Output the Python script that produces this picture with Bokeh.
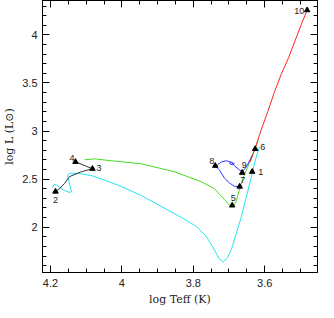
from bokeh.plotting import figure
from bokeh.models import (Range1d, SingleIntervalTicker, LinearAxis,
                          CustomJSTickFormatter, ColumnDataSource)
from bokeh.embed import file_html
from bokeh.resources import INLINE
from bokeh.core.properties import value

# ---------------- data (log Teff, log L) ----------------
red_T = [3.641, 3.627, 3.610, 3.590, 3.573, 3.554, 3.533, 3.515, 3.498, 3.481]
red_L = [2.680, 2.814, 3.010, 3.216, 3.402, 3.588, 3.763, 3.938, 4.103, 4.258]

cyan_T = [4.194, 4.190, 4.183, 4.174, 4.160, 4.146, 4.141, 4.146, 4.150, 4.152,
          4.146, 4.122, 4.085, 4.057, 4.001, 3.946, 3.890, 3.834, 3.792, 3.764,
          3.744, 3.727, 3.716, 3.704, 3.693, 3.679, 3.665, 3.651, 3.637, 3.626,
          3.615]
cyan_L = [2.412, 2.446, 2.440, 2.412, 2.381, 2.361, 2.371, 2.440, 2.508, 2.543,
          2.560, 2.560, 2.536, 2.502, 2.423, 2.330, 2.217, 2.103, 2.010, 1.907,
          1.784, 1.670, 1.639, 1.684, 1.770, 1.941, 2.113, 2.320, 2.526, 2.698,
          2.835]

green_T = [4.105, 4.077, 4.029, 3.946, 3.853, 3.778, 3.741, 3.713, 3.696, 3.690,
           3.680, 3.672, 3.661, 3.647, 3.633, 3.618]
green_L = [2.701, 2.711, 2.691, 2.660, 2.577, 2.474, 2.402, 2.289, 2.222, 2.212,
           2.268, 2.371, 2.508, 2.629, 2.766, 2.907]

blue_T = [3.670, 3.685, 3.699, 3.713, 3.727, 3.7365, 3.732, 3.7225, 3.7085, 3.699,
          3.691, 3.685, 3.691, 3.699, 3.693, 3.6825, 3.671, 3.665, 3.657, 3.648,
          3.634]
blue_L = [2.423, 2.426, 2.461, 2.512, 2.598, 2.632, 2.649, 2.677, 2.691, 2.683,
          2.675, 2.660, 2.649, 2.665, 2.672, 2.632, 2.598, 2.580, 2.598, 2.649,
          2.753]

black_T = [4.130, 4.0825, 4.1133, 4.1469, 4.1608, 4.1748, 4.186]
black_L = [2.680, 2.608, 2.577, 2.526, 2.454, 2.402, 2.371]

pt_T = [3.635, 4.186, 4.0825, 4.130, 3.691, 3.6266, 3.670, 3.7385, 3.663, 3.481]
pt_L = [2.577, 2.371, 2.608, 2.680, 2.227, 2.814, 2.423, 2.639, 2.567, 4.258]
pt_text = ["1", "2", "3", "4", "5", "6", "7", "8", "9", "10"]

# label placement styles (pixels)
lab_dx = [6, 0, 4, -1, 1, 5, 3, -1, 2, -3]
lab_dy = [0, 8, -1, -4, -7, -2, -7, -5, -8, 1]
lab_align = ["left", "center", "left", "right", "center", "left", "center",
             "right", "center", "right"]

# ---------------- figure ----------------
p = figure(frame_width=275, frame_height=272, output_backend="svg",
           toolbar_location=None,
           x_range=Range1d(4.2224, 3.452), y_range=Range1d(1.529, 4.358),
           min_border_left=0, min_border_right=8, min_border_top=0,
           min_border_bottom=0)
p.grid.visible = False
p.outline_line_color = "black"
p.outline_line_width = 1
p.background_fill_color = "white"
p.border_fill_color = "white"

fmt = CustomJSTickFormatter(code="return tick.toFixed(1).replace(/\\.0$/, '');")
xt = SingleIntervalTicker(interval=0.2, num_minor_ticks=4)
yt = SingleIntervalTicker(interval=0.5, num_minor_ticks=5)

tick_font = "Liberation Sans"
lab_font = "DejaVu Serif"

for ax, t in ((p.xaxis[0], xt), (p.yaxis[0], yt)):
    ax.ticker = t
    ax.formatter = fmt
    ax.major_tick_in = 7
    ax.major_tick_out = 0
    ax.minor_tick_in = 4
    ax.minor_tick_out = 0
    ax.major_label_text_font = tick_font
    ax.major_label_text_font_size = "11px"
    ax.major_label_text_color = "#222222"
    ax.axis_label_text_font = lab_font
    ax.axis_label_text_font_size = "11px"
    ax.axis_label_text_font_style = "normal"
    ax.axis_label_text_color = "#222222"

p.xaxis[0].axis_label = "log Teff (K)"
p.xaxis[0].major_label_standoff = 6
p.xaxis[0].axis_label_standoff = 3
p.yaxis[0].axis_label = "log L (L\u2299)"
p.yaxis[0].major_label_standoff = 5
p.yaxis[0].axis_label_standoff = 3

for loc, t in (("above", xt), ("right", yt)):
    ax = LinearAxis(ticker=t, major_label_text_font_size="1px",
                    major_label_text_color=None,
                    major_label_standoff=0, major_tick_in=7, major_tick_out=0,
                    minor_tick_in=4, minor_tick_out=0)
    p.add_layout(ax, loc)

# ---------------- tracks ----------------
p.line(cyan_T, cyan_L, line_color="#22e6f0", line_width=1)
p.line(green_T, green_L, line_color="#44dd22", line_width=1)
p.line(blue_T, blue_L, line_color="#3535ff", line_width=1)
p.line(red_T, red_L, line_color="#ff2222", line_width=1)
p.line(black_T, black_L, line_color="#333333", line_width=1)

src = ColumnDataSource(dict(T=pt_T, L=pt_L, text=pt_text, dx=lab_dx, dy=lab_dy,
                            align=lab_align))
p.scatter(x="T", y="L", source=src, marker="triangle", size=5.5,
          fill_color="black", line_color="black")
p.text(x="T", y="L", text="text", source=src, x_offset="dx", y_offset="dy",
       text_align="align", text_baseline="middle", text_font_size="9px",
       text_font=value("Liberation Sans"), text_color="#222222")

open("out.html", "w").write(file_html(p, INLINE))
